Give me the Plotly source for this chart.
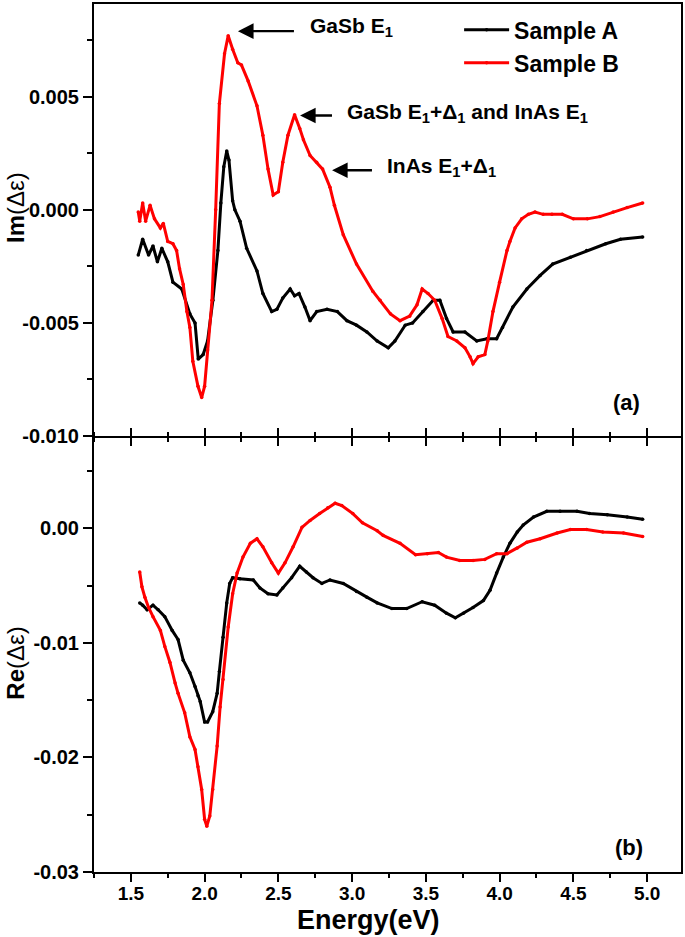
import plotly.graph_objects as go
from plotly.subplots import make_subplots

# ---------------- data ----------------
im_a_e = [1.55, 1.58, 1.62, 1.65, 1.68, 1.71, 1.75, 1.785, 1.845, 1.90, 1.935, 1.957, 1.99, 2.02,
          2.056, 2.09, 2.11, 2.13, 2.15, 2.165, 2.19, 2.205, 2.24, 2.285, 2.355, 2.395, 2.455,
          2.49, 2.53, 2.58, 2.61, 2.64, 2.68, 2.715, 2.76, 2.83, 2.90, 2.965, 3.03, 3.10, 3.17,
          3.245, 3.29, 3.36, 3.41, 3.48, 3.55, 3.595, 3.64, 3.685, 3.765, 3.845, 3.915, 3.98,
          4.02, 4.09, 4.185, 4.275, 4.36, 4.48, 4.59, 4.72, 4.82, 4.97]
im_a_v = [-0.0020, -0.0013, -0.0020, -0.0016, -0.0023, -0.0017, -0.0023, -0.0032, -0.0035,
          -0.0046, -0.0050, -0.0066, -0.0064, -0.0058, -0.0040, -0.0018, 0.0003, 0.0019, 0.0026,
          0.0022, 0.0004, 0.0000, -0.0005, -0.0017, -0.0027, -0.0037, -0.0045, -0.0044, -0.0039,
          -0.0035, -0.0038, -0.0037, -0.0043, -0.0049, -0.0045, -0.0044, -0.0045, -0.0049,
          -0.0051, -0.0054, -0.0058, -0.0061, -0.0058, -0.0051, -0.0050, -0.0045, -0.0040,
          -0.0040, -0.0048, -0.0054, -0.0054, -0.0058, -0.0057, -0.0057, -0.0052, -0.0043,
          -0.0035, -0.0029, -0.0024, -0.0021, -0.0018, -0.0015, -0.0013, -0.0012]

im_b_e = [1.55, 1.56, 1.58, 1.60, 1.63, 1.66, 1.70, 1.72, 1.75, 1.785, 1.81, 1.83, 1.855, 1.88,
          1.90, 1.92, 1.955, 1.98, 2.00, 2.02, 2.05, 2.075, 2.10, 2.135, 2.16, 2.19, 2.225, 2.25,
          2.295, 2.355, 2.395, 2.43, 2.465, 2.50, 2.53, 2.565, 2.61, 2.645, 2.67, 2.715, 2.76,
          2.80, 2.85, 2.88, 2.94, 3.03, 3.14, 3.19, 3.26, 3.325, 3.39, 3.44, 3.475, 3.515, 3.56,
          3.61, 3.65, 3.71, 3.765, 3.80, 3.82, 3.855, 3.90, 3.92, 3.955, 4.00, 4.05, 4.07, 4.105,
          4.15, 4.195, 4.24, 4.295, 4.355, 4.425, 4.50, 4.595, 4.68, 4.77, 4.865, 4.97]
im_b_v = [-0.0001, -0.0005, 0.0003, -0.0005, 0.0002, -0.0004, -0.0008, -0.0006, -0.0014, -0.0015,
          -0.0018, -0.0026, -0.0033, -0.0045, -0.0052, -0.0067, -0.0078, -0.0083, -0.0078, -0.0062,
          -0.0040, 0.0000, 0.0047, 0.0069, 0.0077, 0.0071, 0.0065, 0.0064, 0.0057, 0.0046, 0.0033,
          0.0018, 0.00065, 0.0008, 0.0021, 0.0033, 0.0042, 0.0036, 0.0031, 0.0024, 0.0021, 0.0018,
          0.0010, 0.0002, -0.0011, -0.0024, -0.0036, -0.0040, -0.0046, -0.0049, -0.0047, -0.0042,
          -0.0035, -0.0037, -0.0040, -0.0048, -0.0056, -0.0058, -0.0061, -0.0065, -0.0068, -0.0065,
          -0.0064, -0.0058, -0.0045, -0.0032, -0.0018, -0.0014, -0.0008, -0.0004, -0.0002, -0.0001,
          -0.0002, -0.0002, -0.0002, -0.0004, -0.0004, -0.0003, -0.0001, 0.0001, 0.0003]

re_a_e = [1.56, 1.58, 1.61, 1.65, 1.685, 1.73, 1.78, 1.82, 1.855, 1.90, 1.935, 1.955, 1.97, 2.00,
          2.02, 2.055, 2.085, 2.10, 2.125, 2.15, 2.17, 2.19, 2.24, 2.33, 2.375, 2.43, 2.49, 2.53,
          2.59, 2.645, 2.69, 2.735, 2.795, 2.85, 2.94, 3.03, 3.10, 3.17, 3.27, 3.37, 3.475, 3.56,
          3.64, 3.70, 3.755, 3.82, 3.89, 3.935, 3.98, 4.025, 4.07, 4.12, 4.16, 4.23, 4.32, 4.41,
          4.525, 4.61, 4.73, 4.865, 4.97]
re_a_v = [-0.0065, -0.0067, -0.0071, -0.0067, -0.0071, -0.0077, -0.0089, -0.0097, -0.0115, -0.0126,
          -0.0138, -0.0146, -0.0151, -0.0169, -0.0169, -0.0160, -0.0144, -0.0125, -0.0095, -0.0065,
          -0.0048, -0.0043, -0.0044, -0.0045, -0.0052, -0.0057, -0.0058, -0.0052, -0.0043, -0.0033,
          -0.0038, -0.0043, -0.0048, -0.0045, -0.0048, -0.0055, -0.0060, -0.0065, -0.0070, -0.0070,
          -0.0064, -0.0067, -0.0074, -0.0078, -0.0074, -0.0069, -0.0063, -0.0054, -0.0039, -0.0025,
          -0.0013, -0.0003, 0.0003, 0.0010, 0.0015, 0.0015, 0.0015, 0.0013, 0.0012, 0.0010, 0.0008]

re_b_e = [1.56, 1.575, 1.595, 1.62, 1.65, 1.70, 1.73, 1.765, 1.80, 1.82, 1.865, 1.90, 1.935, 1.955,
          1.98, 2.00, 2.015, 2.035, 2.055, 2.085, 2.105, 2.125, 2.16, 2.19, 2.22, 2.26, 2.31, 2.355,
          2.395, 2.455, 2.50, 2.545, 2.60, 2.66, 2.715, 2.78, 2.835, 2.885, 2.93, 3.005, 3.07, 3.17,
          3.21, 3.325, 3.43, 3.51, 3.585, 3.64, 3.73, 3.82, 3.90, 3.98, 4.05, 4.12, 4.185, 4.275,
          4.39, 4.48, 4.59, 4.70, 4.84, 4.97]
re_b_v = [-0.0038, -0.0051, -0.0060, -0.0069, -0.0077, -0.0089, -0.0103, -0.0117, -0.0135, -0.0144,
          -0.0161, -0.0182, -0.0193, -0.0208, -0.0228, -0.0254, -0.0260, -0.0251, -0.0228, -0.0190,
          -0.0156, -0.0132, -0.0086, -0.0057, -0.0039, -0.0025, -0.0013, -0.0009, -0.0016, -0.0030,
          -0.0039, -0.0030, -0.0016, 0.0001, 0.0007, 0.0013, 0.0018, 0.0022, 0.0020, 0.0013, 0.0005,
          -0.0002, -0.0006, -0.0013, -0.0023, -0.0022, -0.0021, -0.0025, -0.0028, -0.0028, -0.0027,
          -0.0022, -0.0022, -0.0017, -0.0012, -0.0009, -0.0004, -0.0001, -0.0001, -0.0003, -0.0004,
          -0.0007]

series_names = ["Sample A", "Sample B"]
x_ticks = [1.5, 2.0, 2.5, 3.0, 3.5, 4.0, 4.5, 5.0]
x_ticklabels = ["1.5", "2.0", "2.5", "3.0", "3.5", "4.0", "4.5", "5.0"]
im_ticks = [-0.010, -0.005, 0.000, 0.005]
im_ticklabels = ["-0.010", "-0.005", "0.000", "0.005"]
re_ticks = [-0.03, -0.02, -0.01, 0.00]
re_ticklabels = ["-0.03", "-0.02", "-0.01", "0.00"]

# ---------------- figure ----------------
BLACK = "#000000"
RED = "#ff0000"
FONT = "Liberation Sans"

fig = make_subplots(rows=2, cols=1, shared_xaxes=False, vertical_spacing=0)

def add(e, v, name, color, row, show):
    fig.add_trace(go.Scatter(x=e, y=v, name=name, mode="lines+markers",
                             line=dict(color=color, width=3),
                             marker=dict(color=color, size=3.5, symbol="circle"),
                             showlegend=show, legendgroup=name), row=row, col=1)

add(im_a_e, im_a_v, series_names[0], BLACK, 1, True)
add(im_b_e, im_b_v, series_names[1], RED, 1, True)
add(re_a_e, re_a_v, series_names[0], BLACK, 2, False)
add(re_b_e, re_b_v, series_names[1], RED, 2, False)

tickfont = dict(family=FONT, size=19, color="black", weight="bold")
common_x = dict(range=[1.25, 5.23], showgrid=False, zeroline=False, showline=True,
                linecolor="black", linewidth=2, mirror=True, tickvals=x_ticks,
                tickcolor="black", tickwidth=2, ticklen=8,
                minor=dict(dtick=0.25, tick0=1.25, ticklen=4, tickwidth=2, tickcolor="black",
                           ticks="outside"))
fig.update_xaxes(**common_x)
fig.update_xaxes(row=1, col=1, ticks="outside", showticklabels=False)
fig.update_xaxes(row=2, col=1, ticks="outside", mirror="ticks", ticktext=x_ticklabels,
                 tickfont=tickfont, ticklabelstandoff=-5)

common_y = dict(showgrid=False, zeroline=False, showline=True, linecolor="black", linewidth=2,
                mirror=True, ticks="outside", tickcolor="black", tickwidth=2, ticklen=9,
                tickfont=dict(family=FONT, size=20, color="black", weight="bold"))
fig.update_yaxes(row=1, col=1, range=[-0.010, 0.0091], tickvals=im_ticks,
                 ticktext=im_ticklabels, domain=[0.5 + 2.0 / 870, 1.0],
                 minor=dict(dtick=0.0025, tick0=-0.01, ticklen=5, tickwidth=2,
                            tickcolor="black", ticks="outside"), **common_y)
fig.update_yaxes(row=2, col=1, range=[-0.030, 0.0079], tickvals=re_ticks,
                 ticktext=re_ticklabels, domain=[0.0, 0.5],
                 minor=dict(dtick=0.005, tick0=-0.03, ticklen=5, tickwidth=2,
                            tickcolor="black", ticks="outside"), **common_y)

fig.update_layout(
    width=685, height=937,
    margin=dict(l=94, r=4, t=2, b=65),
    paper_bgcolor="white", plot_bgcolor="white",
    font=dict(family=FONT, color="black"),
    legend=dict(x=0.622, y=0.995, xanchor="left", yanchor="top",
                bgcolor="rgba(0,0,0,0)", borderwidth=0,
                font=dict(family=FONT, size=23, color="black", weight="bold"),
                tracegroupgap=0, itemwidth=45),
)

def arrow(x_head, y_head, x_tail, yref):
    fig.add_annotation(x=x_head, y=y_head, ax=x_tail, ay=y_head, xref="x", yref=yref,
                       axref="x", ayref=yref, text=" ", showarrow=True, arrowhead=2,
                       arrowsize=1.3, arrowwidth=2.4, arrowcolor="black",
                       font=dict(family=FONT, size=10, color="black"))

def label(x, y, text, yref="y", size=21):
    fig.add_annotation(x=x, y=y, xref="x", yref=yref, text=text, showarrow=False,
                       xanchor="left", yanchor="middle",
                       font=dict(family=FONT, size=size, color="black"))

arrow(2.226, 0.0079, 2.626, "y")
label(2.70, 0.0081, "<b>GaSb E<sub>1</sub></b>")
arrow(2.647, 0.00417, 2.884, "y")
label(2.952, 0.0043, "<b>GaSb E<sub>1</sub>+Δ<sub>1</sub> and InAs E<sub>1</sub></b>")
arrow(2.864, 0.00175, 3.155, "y")
label(3.223, 0.0019, "<b>InAs E<sub>1</sub>+Δ<sub>1</sub></b>")

# panel letters
fig.add_annotation(x=4.86, y=-0.0085, xref="x", yref="y", text="<b>(a)</b>", showarrow=False,
                   xanchor="center", yanchor="middle", font=dict(family=FONT, size=22, color="black"))
fig.add_annotation(x=4.88, y=-0.0279, xref="x2", yref="y2", text="<b>(b)</b>", showarrow=False,
                   xanchor="center", yanchor="middle", font=dict(family=FONT, size=22, color="black"))

# axis titles
fig.add_annotation(x=(16 - 94) / 587, y=0.765, xref="paper", yref="paper", text="<b>Im</b>(Δε)",
                   showarrow=False, textangle=-90, xanchor="center", yanchor="middle",
                   font=dict(family=FONT, size=24, color="black"))
fig.add_annotation(x=(16 - 94) / 587, y=0.24, xref="paper", yref="paper", text="<b>Re</b>(Δε)",
                   showarrow=False, textangle=-90, xanchor="center", yanchor="middle",
                   font=dict(family=FONT, size=24, color="black"))
fig.add_annotation(x=(368 - 94) / 587, y=(872 - 937) / 870, xref="paper", yref="paper",
                   text="<b>Energy(eV)</b>", showarrow=False, xanchor="center", yanchor="bottom",
                   font=dict(family=FONT, size=27, color="black"))

fig.write_html("out.html", config={"displayModeBar": False},
               post_script="document.body.style.margin='0px';")
